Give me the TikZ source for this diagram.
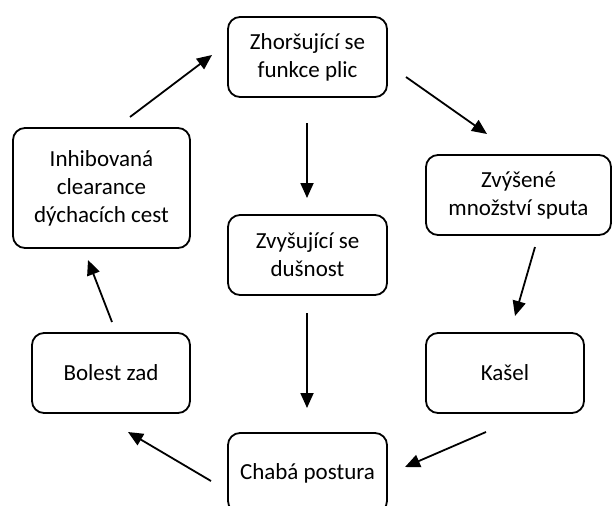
\documentclass[tikz,border=0pt]{standalone}
\usepackage{fontspec}
\setmainfont{Carlito}
\usetikzlibrary{arrows.meta}
\begin{document}
\begin{tikzpicture}[x=1pt,y=-1pt,line width=1.8pt,
    box/.style={draw,rectangle,rounded corners=12pt,align=center,inner sep=0pt,
      minimum width=159pt,minimum height=80pt,font=\fontsize{23}{28}\selectfont},
    arr/.style={-{Triangle[length=15pt,width=13pt]}}]
  \useasboundingbox (0,0) rectangle (616,506);
  \node[box] (a) at (307.5,57) {Zhoršující se\\funkce plic};
  \node[box,minimum width=185pt] (b) at (518.5,195) {Zvýšené\\množství sputa};
  \node[box,minimum width=158pt] (c) at (505,373) {Kašel};
  \node[box] (d) at (307.5,473) {Chabá postura};
  \node[box,minimum width=158pt] (e) at (111,373) {Bolest zad};
  \node[box,minimum width=177pt,minimum height=120pt] (f) at (101.5,188) {Inhibovaná\\clearance\\dýchacích cest};
  \node[box] (g) at (307.5,255) {Zvyšující se\\dušnost};
  % free arrow ends
  \coordinate (a1) at (406,77);  \coordinate (b0) at (487,134);
  \coordinate (b1) at (535,247); \coordinate (c0) at (515,316);
  \coordinate (c1) at (486,432); \coordinate (d0) at (405,467);
  \coordinate (d1) at (211,481); \coordinate (e0) at (128,432);
  \coordinate (e1) at (112,322); \coordinate (f0) at (88,260);
  \coordinate (f1) at (130,117); \coordinate (a0) at (212,55);
  \coordinate (a2) at (307,123); \coordinate (g0) at (307,198);
  \coordinate (g1) at (307,313); \coordinate (d2) at (307,408);
  \draw[arr] (a1) to (b0);
  \draw[arr] (b1) to (c0);
  \draw[arr] (c1) to (d0);
  \draw[arr] (d1) to (e0);
  \draw[arr] (e1) to (f0);
  \draw[arr] (f1) to (a0);
  \draw[arr] (a2) to (g0);
  \draw[arr] (g1) to (d2);
\end{tikzpicture}
\end{document}
